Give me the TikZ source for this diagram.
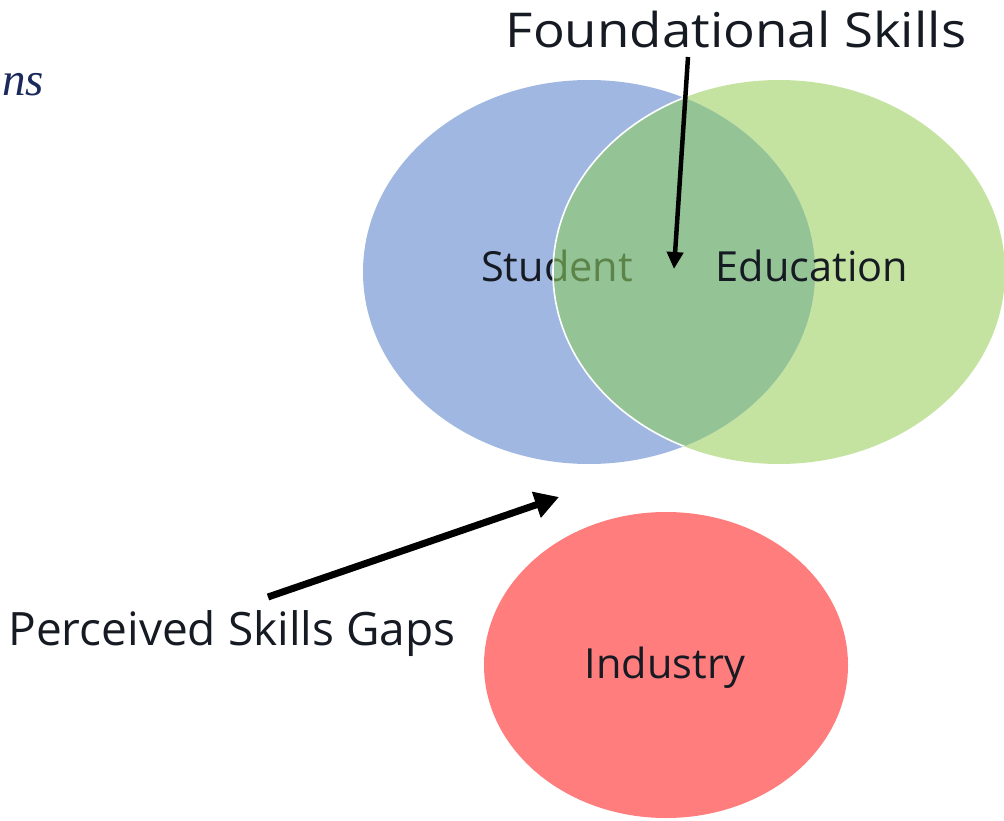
\documentclass[tikz,border=0pt]{standalone}
\usepackage{fontspec}
\setmainfont{Open Sans}
\newfontfamily\captionserif{Liberation Serif}
\usetikzlibrary{arrows.meta}

\definecolor{studentblue}{RGB}{160,184,225}
\definecolor{educationgreen}{RGB}{197,227,160}
\definecolor{sharedgreen}{RGB}{140,204,100}
\definecolor{industryred}{RGB}{255,125,125}
\definecolor{captionnavy}{RGB}{27,42,92}
\definecolor{labelink}{RGB}{22,26,34}

\tikzset{
  setlabel/.style={font=\fontsize{41.5}{46}\selectfont, text=labelink, anchor=base, inner sep=0pt},
  biglabel/.style={font=\fontsize{46}{50}\selectfont, text=labelink, anchor=base, inner sep=0pt},
  pointer/.style={draw=black, line width=4.5pt, -{Triangle[length=17pt,width=16pt]}},
  bigpointer/.style={draw=black, line width=7pt, -{Triangle[length=24pt,width=26pt]}},
}

\begin{document}
\begin{tikzpicture}[x=1pt,y=-1pt]
\useasboundingbox (0,0) rectangle (1004,821);

% the three sets
\fill[educationgreen] (779,272) ellipse [x radius=226pt, y radius=192pt];
\fill[studentblue] (589,272) ellipse [x radius=226pt, y radius=192pt];
\node[setlabel] (student) at (557,281) {Student};

% shared region of student and education
\begin{scope}
  \clip (589,272) ellipse [x radius=226pt, y radius=192pt];
  \fill[sharedgreen, fill opacity=0.6] (779,272) ellipse [x radius=226pt, y radius=192pt];
  \draw[white, line width=1.6pt] (779,272) ellipse [x radius=226pt, y radius=192pt];
\end{scope}
\node[setlabel] (education) at (812,281) {Education};

\fill[industryred] (666,665) ellipse [x radius=182pt, y radius=153pt];
\node[setlabel] (industry) at (665,678) {Industry};

% callouts
\node[biglabel, font=\fontsize{48}{52}\selectfont, xscale=1.1] (foundational) at (736,48) {Foundational Skills};
\node[biglabel] (gaps) at (232,645) {Perceived Skills Gaps};
\node[font=\captionserif\itshape\fontsize{47}{52}\selectfont, text=captionnavy, anchor=base west, inner sep=0pt]
  (caption) at (2,96) {ns};

\coordinate (foundtail) at (688,57);
\coordinate (foundtip) at (674,269);
\coordinate (gapstail) at (268,597);
\coordinate (gapstip) at (559,497);
\draw[pointer] (foundtail) -- (foundtip);
\draw[bigpointer] (gapstail) -- (gapstip);
\end{tikzpicture}
\end{document}
